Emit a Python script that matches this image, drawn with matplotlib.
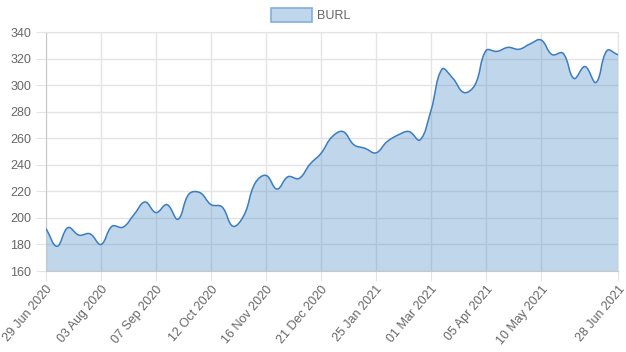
import numpy as np
import matplotlib
matplotlib.use("Agg")
import matplotlib.pyplot as plt
from matplotlib.path import Path
from matplotlib.patches import PathPatch, Patch

# weekly closing values, 29 Jun 2020 .. 28 Jun 2021
dates = ["29 Jun 2020", "06 Jul 2020", "13 Jul 2020", "20 Jul 2020", "27 Jul 2020",
         "03 Aug 2020", "10 Aug 2020", "17 Aug 2020", "24 Aug 2020", "31 Aug 2020",
         "07 Sep 2020", "14 Sep 2020", "21 Sep 2020", "28 Sep 2020", "05 Oct 2020",
         "12 Oct 2020", "19 Oct 2020", "26 Oct 2020", "02 Nov 2020", "09 Nov 2020",
         "16 Nov 2020", "23 Nov 2020", "30 Nov 2020", "07 Dec 2020", "14 Dec 2020",
         "21 Dec 2020", "28 Dec 2020", "04 Jan 2021", "11 Jan 2021", "18 Jan 2021",
         "25 Jan 2021", "01 Feb 2021", "08 Feb 2021", "15 Feb 2021", "22 Feb 2021",
         "01 Mar 2021", "08 Mar 2021", "15 Mar 2021", "22 Mar 2021", "29 Mar 2021",
         "05 Apr 2021", "12 Apr 2021", "19 Apr 2021", "26 Apr 2021", "03 May 2021",
         "10 May 2021", "17 May 2021", "24 May 2021", "31 May 2021", "07 Jun 2021",
         "14 Jun 2021", "21 Jun 2021", "28 Jun 2021"]
burl = [192, 178.6, 192.7, 187, 188, 180, 193.7, 193, 202.5, 212,
        204, 210, 199, 218, 219, 210, 208.3, 193.7, 202, 226,
        232, 221.7, 231, 229.7, 240.5, 248.6, 261, 265, 255, 252.4,
        249, 257.4, 262.4, 265, 258.7, 281, 312, 305, 294.4, 300.2,
        326, 325.4, 328.4, 327, 331, 334, 323, 324, 305, 314,
        302, 326, 322.8]
shown_labels = [0, 5, 10, 15, 20, 25, 30, 35, 40, 45, 52]

fill_col = (48 / 255, 122 / 255, 192 / 255, 0.3)
line_col = "#3b7dc1"
grid_col = "#e4e4e4"
text_col = "#666666"

W, H = 626, 352
fig = plt.figure(figsize=(W / 100, H / 100), dpi=100)
ax = fig.add_axes([46 / W, 1 - 271 / H, (618 - 46) / W, (271 - 32) / H])

x = np.arange(len(burl), dtype=float)
y = np.array(burl, dtype=float)
ymin, ymax = 160, 340
ax.set_xlim(0, len(burl) - 1)
ax.set_ylim(ymin, ymax)

# chart.js-like bezier smoothing (tension 0.4), computed in pixel space
sx = (618 - 46) / (len(burl) - 1)
sy = (271 - 32) / (ymax - ymin)
px, py = x * sx, y * sy
t = 0.4
c_in, c_out = [], []
for i in range(len(x)):
    p0 = (px[max(i - 1, 0)], py[max(i - 1, 0)])
    p2 = (px[min(i + 1, len(x) - 1)], py[min(i + 1, len(x) - 1)])
    d01 = np.hypot(px[i] - p0[0], py[i] - p0[1])
    d12 = np.hypot(p2[0] - px[i], p2[1] - py[i])
    tot = d01 + d12 if d01 + d12 > 0 else 1
    fa, fb = t * d01 / tot, t * d12 / tot
    c_in.append((px[i] - fa * (p2[0] - p0[0]), py[i] - fa * (p2[1] - p0[1])))
    c_out.append((px[i] + fb * (p2[0] - p0[0]), py[i] + fb * (p2[1] - p0[1])))

verts = [(x[0], y[0])]
codes = [Path.MOVETO]
for i in range(len(x) - 1):
    a = c_out[i]
    b = c_in[i + 1]
    verts += [(a[0] / sx, min(max(a[1] / sy, ymin), ymax)),
              (b[0] / sx, min(max(b[1] / sy, ymin), ymax)),
              (x[i + 1], y[i + 1])]
    codes += [Path.CURVE4] * 3

fill_verts = verts + [(x[-1], ymin), (x[0], ymin), (x[0], y[0])]
fill_codes = codes + [Path.LINETO, Path.LINETO, Path.CLOSEPOLY]
ax.add_patch(PathPatch(Path(fill_verts, fill_codes), facecolor=fill_col,
                       edgecolor="none", zorder=2))
ax.add_patch(PathPatch(Path(verts, codes), facecolor="none",
                       edgecolor=line_col, lw=1.1, zorder=3))

ax.set_yticks(np.arange(160, 341, 20))
ax.set_xticks(shown_labels)
ax.set_xticklabels([dates[i] for i in shown_labels], rotation=50,
                   ha="right", rotation_mode="anchor")
ax.grid(True, color=grid_col, lw=1, zorder=1)
ax.set_axisbelow(True)
ax.tick_params(axis="both", colors=grid_col, length=7, labelcolor=text_col,
               labelsize=9)
ax.tick_params(axis="x", pad=2)
for side in ["top", "right"]:
    ax.spines[side].set_color(grid_col)
for side in ["left", "bottom"]:
    ax.spines[side].set_color("#c8c8c8")
for lab in ax.get_xticklabels() + ax.get_yticklabels():
    lab.set_fontfamily(["Liberation Sans", "DejaVu Sans"])

handle = Patch(facecolor=fill_col, edgecolor="#7fb0dc", lw=1.2)
leg = fig.legend([handle], ["BURL"], loc="center", bbox_to_anchor=(0.5 - 2 / W, 1 - 15 / H),
                 frameon=False, handlelength=3.3, handleheight=1.3,
                 handletextpad=0.4, prop={"family": ["Liberation Sans"], "size": 9})
for txt in leg.get_texts():
    txt.set_color(text_col)

fig.savefig("out.png", dpi=100)
